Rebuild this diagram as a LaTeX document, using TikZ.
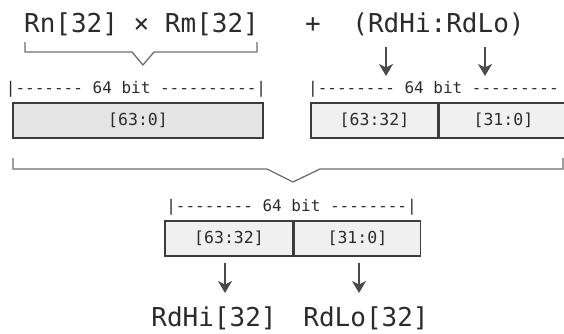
\documentclass[tikz,border=0pt]{standalone}
\usepackage{fontspec}
\setmonofont{DejaVu Sans Mono}
\usepackage{xcolor}
\usepackage{tikz}
\usetikzlibrary{arrows.meta, positioning}
\definecolor{inkgray}{HTML}{2B2B2B}
\definecolor{boxline}{HTML}{3C3C3C}
\definecolor{bracegray}{HTML}{6E6E6E}
\definecolor{arrowgray}{HTML}{4A4A4A}
\definecolor{cellfill}{HTML}{F0F0F0}
\definecolor{widefill}{HTML}{E4E4E4}
\tikzstyle{bigtext} = [inner sep=0pt, anchor=base, text=inkgray,
    font=\ttfamily\fontsize{26}{30}\selectfont]
\tikzstyle{ruler}   = [inner sep=0pt, anchor=base, text=inkgray,
    font=\ttfamily\fontsize{16}{19}\selectfont]
\tikzstyle{cell}    = [rectangle, minimum height=35pt, inner sep=0pt, text centered,
    draw=boxline, line width=1.4pt, fill=cellfill, text=inkgray,
    font=\ttfamily\fontsize{16.5}{19}\selectfont]
\tikzstyle{arrow}   = [line width=1.4pt, draw=arrowgray, fill=arrowgray,
    -{Stealth[length=12pt, width=14pt, inset=3.5pt]}]
\tikzstyle{brace}   = [line width=1.3pt, draw=bracegray]

\begin{document}
\begin{tikzpicture}[x=1pt, y=-1pt]
    \clip (0,0) rectangle (564,333);
    % operands
    \node (prod) [bigtext] at (141.5,32)  {Rn[32] × Rm[32]};
    \node (plus) [bigtext] at (313,32)    {+};
    \node (acc)  [bigtext] at (438.5,32)  {(RdHi:RdLo)};
    \draw [brace] (25,42) -- (25,52) -- (132,52) -- (143,65) -- (154,52) -- (257,52) -- (257,42);
    % product register
    \node (prodrule) [ruler] at (136,93)  {|------- 64 bit ----------|};
    \node (wide)   [cell, fill=widefill, minimum width=250pt] at (138,120.5) {[63:0]};
    % accumulator register
    \node (accrule)  [ruler, anchor=base west] at (308,93) {|-------- 64 bit ---------};
    \node (acchi)  [cell, minimum width=127pt] at (374.5,120.5) {[63:32]};
    \node (acclo)  [cell, minimum width=128pt, right=0pt of acchi] {[31:0]};
    \coordinate (hiin)  at (386,47);
    \coordinate (hiend) at (386,76);
    \coordinate (loin)  at (485,47);
    \coordinate (loend) at (485,76);
    \draw [arrow] (hiin) -- (hiend);
    \draw [arrow] (loin) -- (loend);
    % sum
    \draw [brace] (13,158) -- (13,169) -- (267,169) -- (293,182) -- (320,169) -- (563,169) -- (563,158);
    \node (sumrule)  [ruler] at (291.5,211) {|-------- 64 bit --------|};
    \node (sumhi)  [cell, minimum width=128pt] at (229,238.5) {[63:32]};
    \node (sumlo)  [cell, minimum width=126pt, right=0pt of sumhi] {[31:0]};
    % results
    \node (rdhi) [bigtext] at (214,326) {RdHi[32]};
    \node (rdlo) [bigtext] at (366,326) {RdLo[32]};
    \coordinate (hiout) at (225,263);
    \coordinate (hidst) at (225,293);
    \coordinate (loout) at (359,263);
    \coordinate (lodst) at (359,293);
    \draw [arrow] (hiout) -- (hidst);
    \draw [arrow] (loout) -- (lodst);
\end{tikzpicture}
\end{document}
